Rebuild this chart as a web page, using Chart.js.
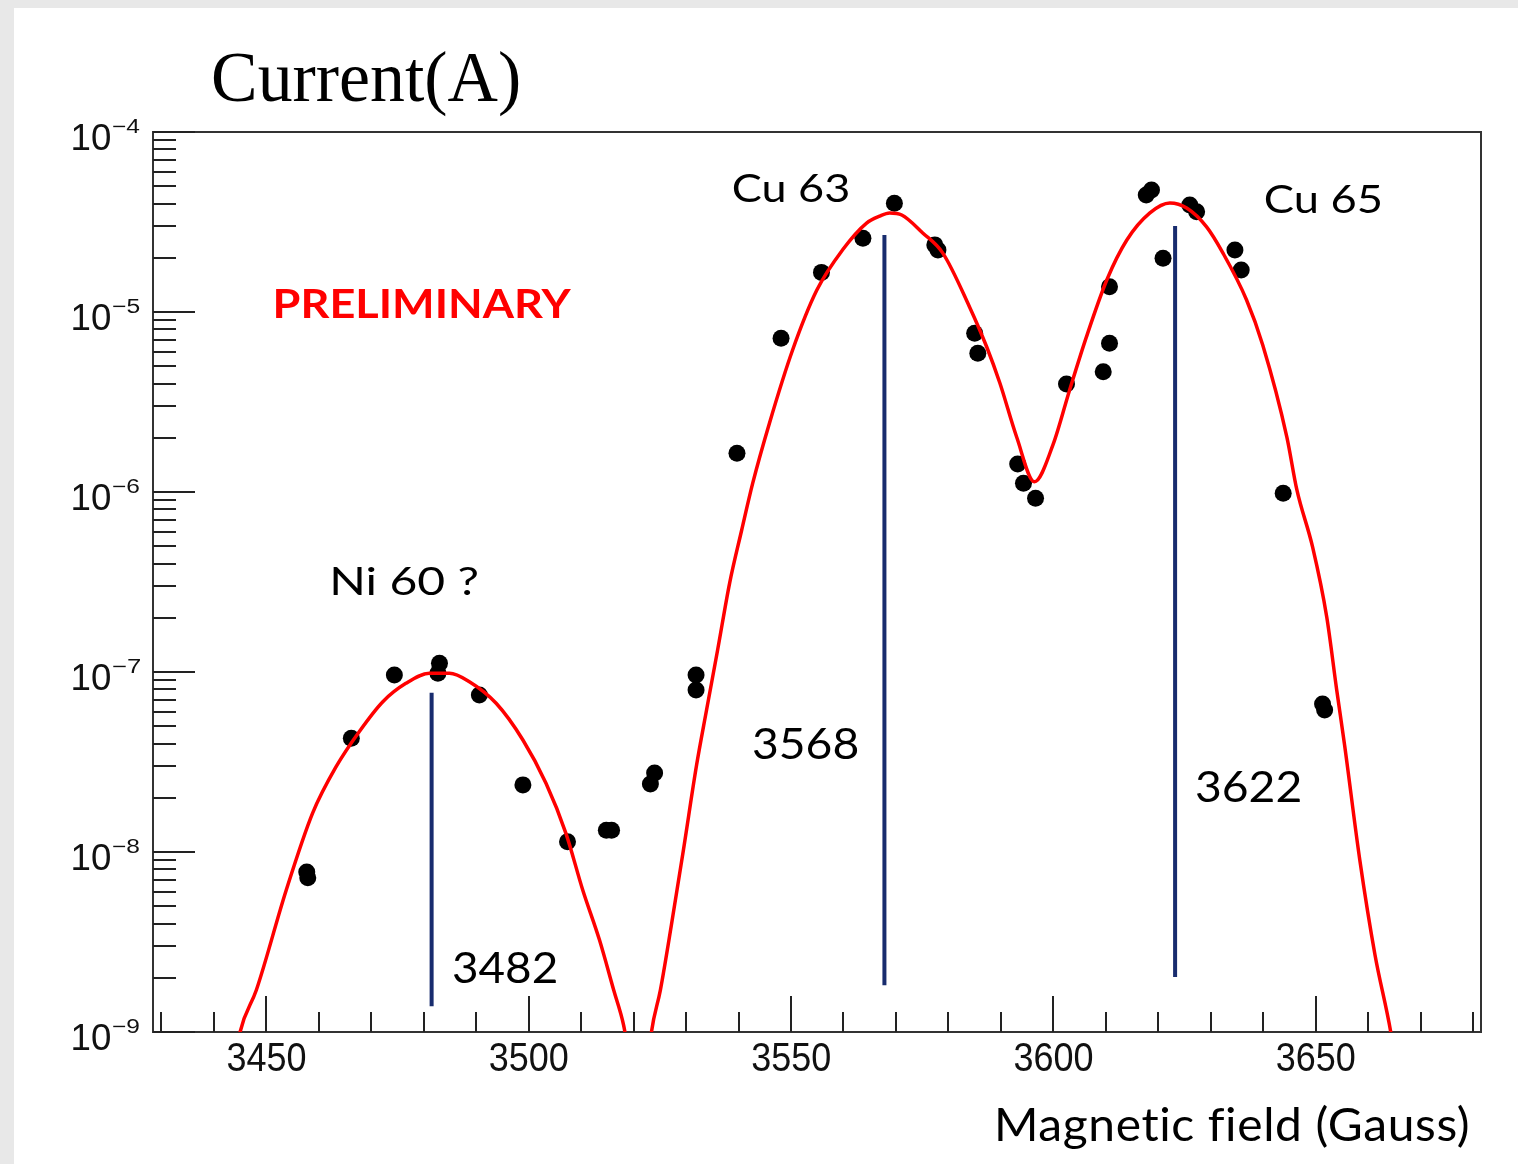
<!DOCTYPE html>
<html><head><meta charset="utf-8">
<script src="https://cdn.jsdelivr.net/npm/chart.js@4.4.1/dist/chart.umd.min.js"></script>
<style>html,body{margin:0;padding:0;background:#e8e8e8;overflow:hidden;} canvas{display:block;}</style>
</head><body>
<canvas id="c" width="1518" height="1164"></canvas>
<script>
// ---------------- data ----------------
const measField = [3457.7,3457.9,3466.2,3474.4,3483.0,3482.7,3490.6,3498.9,3507.4,3514.8,3515.8,3523.2,3524.0,3531.9,3531.9,3539.7,3548.1,3555.8,3563.7,3569.7,3577.4,3578.0,3585.0,3585.6,3593.2,3594.3,3596.6,3602.5,3609.5,3610.7,3610.7,3617.7,3618.7,3620.9,3626.0,3627.3,3634.6,3635.8,3643.8,3651.3,3651.7];
const measCurrent = [7.74e-9,7.2e-9,4.28e-8,9.62e-8,1.117e-7,9.84e-8,7.45e-8,2.36e-8,1.14e-8,1.32e-8,1.32e-8,2.39e-8,2.75e-8,9.62e-8,7.94e-8,1.64e-6,7.14e-6,1.66e-5,2.57e-5,4.02e-5,2.36e-5,2.21e-5,7.62e-6,5.90e-6,1.43e-6,1.117e-6,9.23e-7,3.98e-6,4.66e-6,6.70e-6,1.38e-5,4.47e-5,4.76e-5,1.99e-5,3.93e-5,3.61e-5,2.21e-5,1.71e-5,9.84e-7,6.65e-8,6.15e-8];

const fitField = [3444.1,3445.0,3448.1,3453.8,3458.8,3463.3,3467.7,3472.2,3476.6,3481.1,3484.9,3488.7,3493.8,3498.9,3503.3,3507.1,3510.3,3513.5,3516.2,3518.1,3521.5,3523.4,3525.1,3527.2,3529.5,3532.0,3533.9,3536.0,3538.3,3540.6,3542.7,3545.9,3550.3,3554.9,3559.8,3564.4,3566.9,3568.8,3571.1,3575.1,3578.9,3584.0,3587.3,3589.8,3593.0,3596.4,3599.9,3603.1,3606.3,3610.2,3614.0,3618.4,3622.2,3625.4,3629.2,3632.3,3636.8,3639.9,3644.5,3646.4,3649.4,3652.1,3654.0,3655.5,3658.4,3661.3,3664.3,3665.1];
const fitCurrent = [7e-10,1.0e-9,1.71e-9,6.15e-9,1.64e-8,2.98e-8,4.66e-8,6.84e-8,8.65e-8,9.84e-8,9.84e-8,8.83e-8,6.70e-8,4.19e-8,2.41e-8,1.27e-8,6.15e-9,3.24e-9,1.71e-9,1.09e-9,3e-10,1.0e-9,1.71e-9,3.93e-9,1.03e-8,3.04e-8,6.15e-8,1.32e-7,3.12e-7,6.15e-7,1.12e-6,2.42e-6,6.15e-6,1.32e-5,2.21e-5,3.12e-5,3.41e-5,3.55e-5,3.46e-5,2.75e-5,2.13e-5,1.07e-5,6.39e-6,4.03e-6,2.02e-6,1.14e-6,1.82e-6,3.69e-6,7.27e-6,1.51e-5,2.51e-5,3.55e-5,4.03e-5,3.78e-5,2.97e-5,2.13e-5,1.17e-5,6.56e-6,2.02e-6,1.03e-6,4.95e-7,2.02e-7,7.94e-8,3.93e-8,9.03e-9,2.68e-9,1.0e-9,7e-10];

const isotopeField  = [3481.5, 3567.8, 3623.2];
const isotopeTop    = [7.67e-8, 2.68e-5, 3.0e-5];
const isotopeBottom = [1.39e-9, 1.82e-9, 2.02e-9];
const isotopeLabels = ['3482', '3568', '3622'];
const peakNames     = ['Ni 60 ?', 'Cu 63', 'Cu 65'];

const xMin = 3428.4, xMax = 3681.5;
const yMin = 1e-9, yMax = 1e-4;
const xTickValues = [3450, 3500, 3550, 3600, 3650];
const xTickLabels = ['3450', '3500', '3550', '3600', '3650'];
const yDecades   = [1e-9, 1e-8, 1e-7, 1e-6, 1e-5, 1e-4];
const yExponents = ['\u22129', '\u22128', '\u22127', '\u22126', '\u22125', '\u22124'];
const yTitle = 'Current(A)';
const xTitle = 'Magnetic field (Gauss)';
const stamp = 'PRELIMINARY';

// ---------------- helpers ----------------
function fitText(ctx, text, x0, x1, top, base, family, weight, color, spacing) {
  ctx.save();
  if (spacing && 'letterSpacing' in ctx) ctx.letterSpacing = spacing;
  ctx.font = weight + ' 100px ' + family;
  let m = ctx.measureText(text);
  const size = 100 * (base - top) / m.actualBoundingBoxAscent;
  ctx.font = weight + ' ' + size.toFixed(2) + 'px ' + family;
  m = ctx.measureText(text);
  const inkW = m.actualBoundingBoxRight + m.actualBoundingBoxLeft;
  const sx = (x1 - x0) / inkW;
  ctx.translate(x0, base);
  ctx.scale(sx, 1);
  ctx.textAlign = 'left';
  ctx.textBaseline = 'alphabetic';
  ctx.fillStyle = color;
  ctx.fillText(text, m.actualBoundingBoxLeft, 0);
  ctx.restore();
}
const SANS = "'Liberation Sans'";
const SERIF = "'Liberation Serif'";
const CAL = "Lato";

const pagePlugin = {
  id: 'page',
  beforeDraw(chart) {
    const ctx = chart.ctx;
    ctx.save();
    ctx.fillStyle = '#e8e8e8';
    ctx.fillRect(0, 0, chart.width, chart.height);
    ctx.fillStyle = '#ffffff';
    ctx.fillRect(14, 8, chart.width - 14, chart.height - 8);
    ctx.restore();
  },
  beforeDatasetsDraw(chart) {
    const ctx = chart.ctx, a = chart.chartArea;
    const xs = chart.scales.x, ys = chart.scales.y;
    ctx.save();
    ctx.strokeStyle = '#333';
    ctx.lineWidth = 2;
    ctx.strokeRect(a.left, a.top, a.right - a.left, a.bottom - a.top);
    ctx.strokeStyle = '#222';
    ctx.beginPath();
    // x ticks (inside, from the bottom axis)
    for (let v = 3430; v <= xMax; v += 10) {
      const px = Math.round(xs.getPixelForValue(v));
      const len = (v % 50 === 0) ? 36 : 20;
      ctx.moveTo(px, a.bottom);
      ctx.lineTo(px, a.bottom - len);
    }
    // y ticks (inside, from the left axis)
    for (let d = 0; d < yDecades.length; d++) {
      const dec = yDecades[d];
      const py = Math.round(ys.getPixelForValue(dec));
      ctx.moveTo(a.left, py); ctx.lineTo(a.left + 42, py);
      if (d < yDecades.length - 1) {
        for (let k = 2; k <= 9; k++) {
          const p = Math.round(ys.getPixelForValue(k * dec));
          ctx.moveTo(a.left, p); ctx.lineTo(a.left + 23, p);
        }
      }
    }
    ctx.stroke();
    ctx.restore();
  },
  afterDraw(chart) {
    const ctx = chart.ctx;
    const xs = chart.scales.x, ys = chart.scales.y;
    // y tick labels 10^n
    for (let i = 0; i < yDecades.length; i++) {
      const py = ys.getPixelForValue(yDecades[i]);
      fitText(ctx, '10', 72.5, 110, py - 8, py + 17.5, SANS, 'normal', '#111');
      fitText(ctx, yExponents[i], 112, 140, py - 12.5, py + 1.3, SANS, 'normal', '#111');
    }
    // x tick labels
    for (let i = 0; i < xTickValues.length; i++) {
      const px = xs.getPixelForValue(xTickValues[i]);
      fitText(ctx, xTickLabels[i], px - 39, px + 39, 1043, 1071, SANS, 'normal', '#111');
    }
    // titles
    fitText(ctx, yTitle, 213, 519, 50, 101, SERIF, 'normal', '#000');
    fitText(ctx, xTitle, 998, 1468, 1104, 1141, CAL, 'normal', '#000', '0.6px');
    fitText(ctx, stamp, 276, 571, 289, 318, CAL, 'bold', '#ff0000');
    // peak names
    fitText(ctx, peakNames[0], 333, 477, 566, 595, CAL, 'normal', '#000');
    fitText(ctx, peakNames[1], 733, 848, 174, 202, CAL, 'normal', '#000');
    fitText(ctx, peakNames[2], 1265, 1381, 184, 213, CAL, 'normal', '#000');
    // isotope field values
    fitText(ctx, isotopeLabels[0], 453, 556, 951, 983, CAL, 'normal', '#000');
    fitText(ctx, isotopeLabels[1], 753, 857, 727, 759, CAL, 'normal', '#000');
    fitText(ctx, isotopeLabels[2], 1196, 1300, 770, 802, CAL, 'normal', '#000');
  }
};

function pts(xArr, yArr) { return xArr.map((x, i) => ({ x: x, y: yArr[i] })); }

function build() {
  const datasets = [];
  datasets.push({
    type: 'line', label: 'fit', data: pts(fitField, fitCurrent),
    borderColor: '#ff0000', borderWidth: 3.5, pointRadius: 0, fill: false,
    cubicInterpolationMode: 'monotone', clip: 0, order: 0
  });
  for (let i = 0; i < isotopeField.length; i++) {
    datasets.push({
      type: 'line', label: isotopeLabels[i],
      data: [{ x: isotopeField[i], y: isotopeTop[i] }, { x: isotopeField[i], y: isotopeBottom[i] }],
      borderColor: '#182c6e', borderWidth: 4, pointRadius: 0, fill: false, clip: 0, order: 1
    });
  }
  datasets.push({
    type: 'scatter', label: 'data', data: pts(measField, measCurrent),
    backgroundColor: '#000', borderColor: '#000', borderWidth: 0, pointRadius: 8.5,
    pointHoverRadius: 8.5, order: 2
  });
  new Chart(document.getElementById('c'), {
    data: { datasets: datasets },
    options: {
      responsive: false, animation: false, devicePixelRatio: 1,
      layout: { padding: { left: 153, top: 132, right: 37, bottom: 132 } },
      plugins: { legend: { display: false }, tooltip: { enabled: false } },
      events: [],
      scales: {
        x: { type: 'linear', min: xMin, max: xMax, display: false },
        y: { type: 'logarithmic', min: yMin, max: yMax, display: false }
      }
    },
    plugins: [pagePlugin]
  });
}
const fontsToLoad = ['100px Lato', 'bold 100px Lato', "100px 'Liberation Sans'", "100px 'Liberation Serif'"];
Promise.all(fontsToLoad.map(f => document.fonts.load(f))).then(build, build);
</script>
</body></html>
